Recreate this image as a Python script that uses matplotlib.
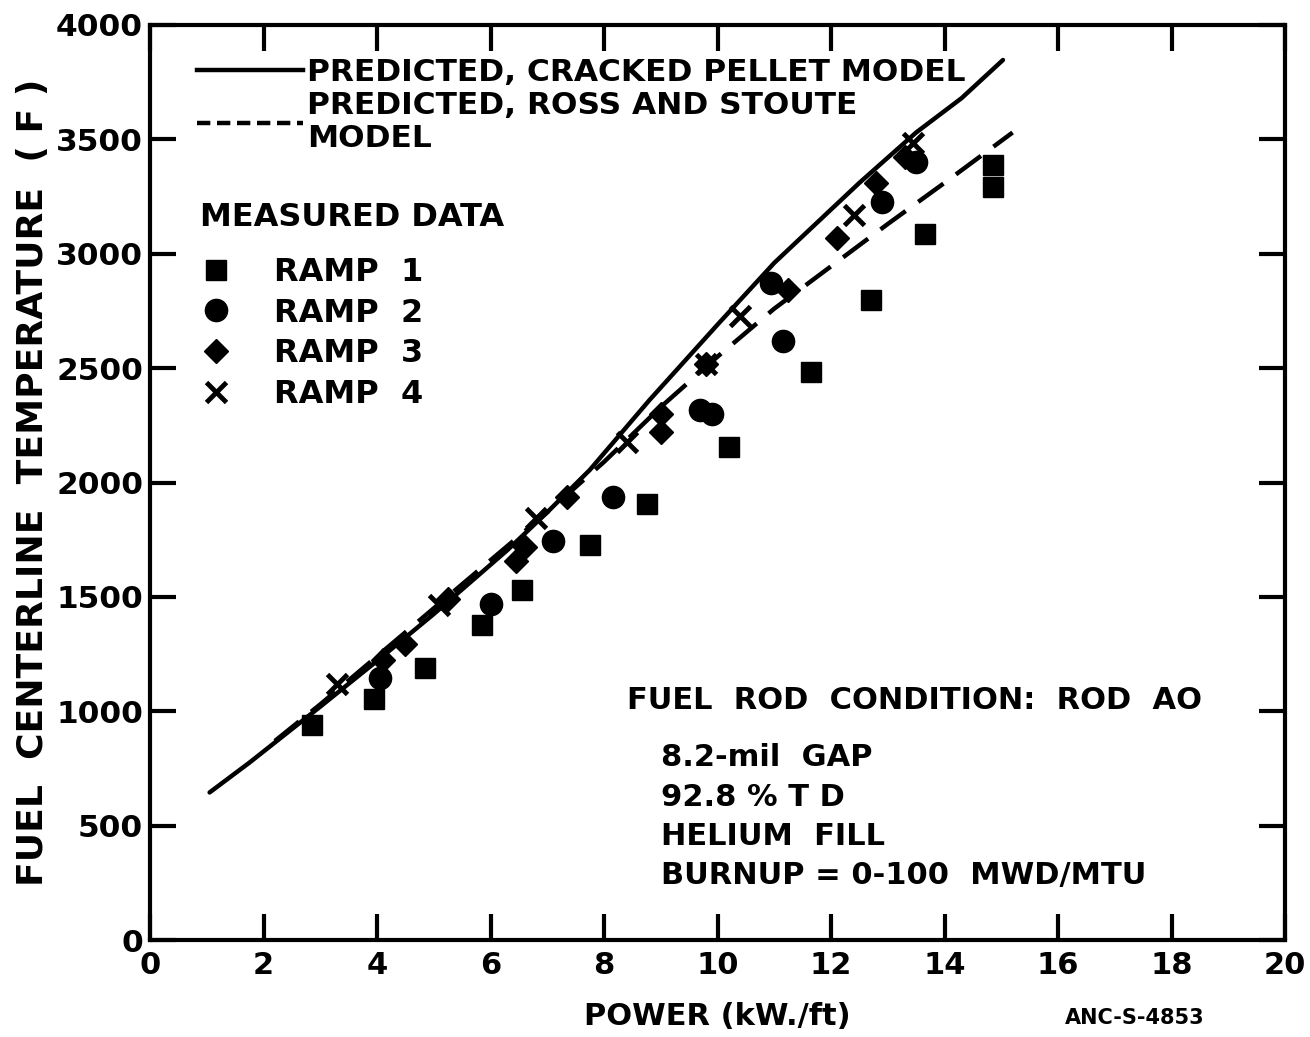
import matplotlib
matplotlib.use("Agg")
import matplotlib.pyplot as plt
from matplotlib.lines import Line2D

# Predicted curves
cracked_x = [1.05, 1.75, 3.0, 4.0, 5.0, 6.3, 7.0, 7.75, 8.8, 10.0, 11.0, 11.6, 12.5, 13.5, 14.3, 15.03]
cracked_y = [645, 775, 1020, 1220, 1425, 1705, 1870, 2055, 2360, 2690, 2960, 3100, 3310, 3530, 3680, 3847]

ross_x = [2.2, 3.0, 4.0, 5.0, 6.0, 7.0, 8.0, 9.0, 10.0, 11.0, 12.0, 13.0, 14.0, 15.2]
ross_y = [870, 1030, 1240, 1450, 1660, 1870, 2090, 2330, 2550, 2760, 2945, 3130, 3310, 3530]

# Measured data
ramp1_x = [2.85, 3.95, 4.85, 5.85, 6.55, 7.75, 8.75, 10.2, 11.65, 12.7, 13.65, 14.85, 14.85]
ramp1_y = [940, 1055, 1190, 1375, 1530, 1725, 1905, 2155, 2485, 2800, 3085, 3390, 3290]

ramp2_x = [4.05, 6.0, 7.1, 8.15, 9.7, 9.9, 10.95, 11.15, 12.9, 13.5]
ramp2_y = [1145, 1470, 1745, 1935, 2315, 2300, 2870, 2620, 3225, 3400]

ramp3_x = [4.1, 4.5, 5.25, 6.45, 6.6, 7.35, 9.0, 9.0, 9.8, 11.25, 12.1, 12.8, 13.3]
ramp3_y = [1225, 1295, 1490, 1655, 1720, 1935, 2300, 2220, 2520, 2840, 3070, 3310, 3425]

ramp4_x = [3.3, 5.1, 6.8, 8.4, 9.8, 10.4, 12.4, 13.45]
ramp4_y = [1120, 1465, 1845, 2175, 2520, 2730, 3170, 3485]

x_ticks = [0, 2, 4, 6, 8, 10, 12, 14, 16, 18, 20]
y_ticks = [0, 500, 1000, 1500, 2000, 2500, 3000, 3500, 4000]

plt.rcParams['font.family'] = 'DejaVu Sans'
plt.rcParams['font.weight'] = 'bold'

fig = plt.figure(figsize=(13.1, 10.37), dpi=100)
ax = fig.add_axes([150 / 1310, 1 - 940 / 1037, 1135 / 1310, 915 / 1037])

ax.plot(cracked_x, cracked_y, color='black', lw=3.2, solid_capstyle='round')
ax.plot(ross_x, ross_y, color='black', lw=3.2, dashes=(7, 3.5))

ax.plot(ramp1_x, ramp1_y, 's', color='black', ms=14, ls='none')
ax.plot(ramp2_x, ramp2_y, 'o', color='black', ms=16, ls='none')
ax.plot(ramp3_x, ramp3_y, 'D', color='black', ms=12, ls='none')
ax.plot(ramp4_x, ramp4_y, 'x', color='black', ms=15, mew=3.5, ls='none')

ax.set_xlim(0, 20)
ax.set_ylim(0, 4000)
ax.set_xticks(x_ticks)
ax.set_yticks(y_ticks)
ax.tick_params(direction='in', length=19, width=3, top=True, right=True)
ax.tick_params(axis='x', pad=8, labelsize=22)
ax.tick_params(axis='y', pad=5, labelsize=22.5)
for s in ax.spines.values():
    s.set_linewidth(3)

ax.set_xlabel('POWER (kW./ft)', fontsize=22, fontweight='bold', labelpad=16)
ax.set_ylabel('FUEL  CENTERLINE  TEMPERATURE  ( F )', fontsize=26,
              fontweight='bold', labelpad=4)

# legend for the predicted curves
line_handles = [Line2D([], [], color='black', lw=3.2),
                Line2D([], [], color='black', lw=3.2, dashes=(3, 1.5))]
leg1 = ax.legend(line_handles,
                 ['PREDICTED, CRACKED PELLET MODEL',
                  'PREDICTED, ROSS AND STOUTE\nMODEL'],
                 loc='upper left', bbox_to_anchor=(0.03, 0.978), frameon=False,
                 fontsize=22.5, handlelength=3.4, handletextpad=0.15,
                 labelspacing=0.15, borderaxespad=0)
for t in leg1.get_texts():
    t.set_linespacing(1.15)
ax.add_artist(leg1)

# legend for measured data
mark_handles = [Line2D([], [], marker='s', color='black', ms=14, ls='none'),
                Line2D([], [], marker='o', color='black', ms=16, ls='none'),
                Line2D([], [], marker='D', color='black', ms=12, ls='none'),
                Line2D([], [], marker='x', color='black', ms=15, mew=3.5, ls='none')]
leg2 = ax.legend(mark_handles, ['RAMP  1', 'RAMP  2', 'RAMP  3', 'RAMP  4'],
                 title='MEASURED DATA', alignment='left',
                 loc='upper left', bbox_to_anchor=(0.033, 0.82), frameon=False,
                 fontsize=23, title_fontproperties={'size': 23, 'weight': 'bold'},
                 handlelength=1.0, handletextpad=1.3, labelspacing=0.3,
                 borderaxespad=0)
leg2._legend_box.sep = 17

ax.text(0.42, 0.262, 'FUEL  ROD  CONDITION:  ROD  AO', transform=ax.transAxes,
        fontsize=22, fontweight='bold', va='center')
ax.text(0.45, 0.215, '8.2-mil  GAP\n92.8 % T D\nHELIUM  FILL\nBURNUP = 0-100  MWD/MTU',
        transform=ax.transAxes, fontsize=22, fontweight='bold', va='top',
        linespacing=1.45)

fig.text(1135 / 1310, 1 - 1018 / 1037, 'ANC-S-4853', fontsize=15,
         fontweight='bold', ha='center', va='center')

fig.savefig('out.png', dpi=100)
